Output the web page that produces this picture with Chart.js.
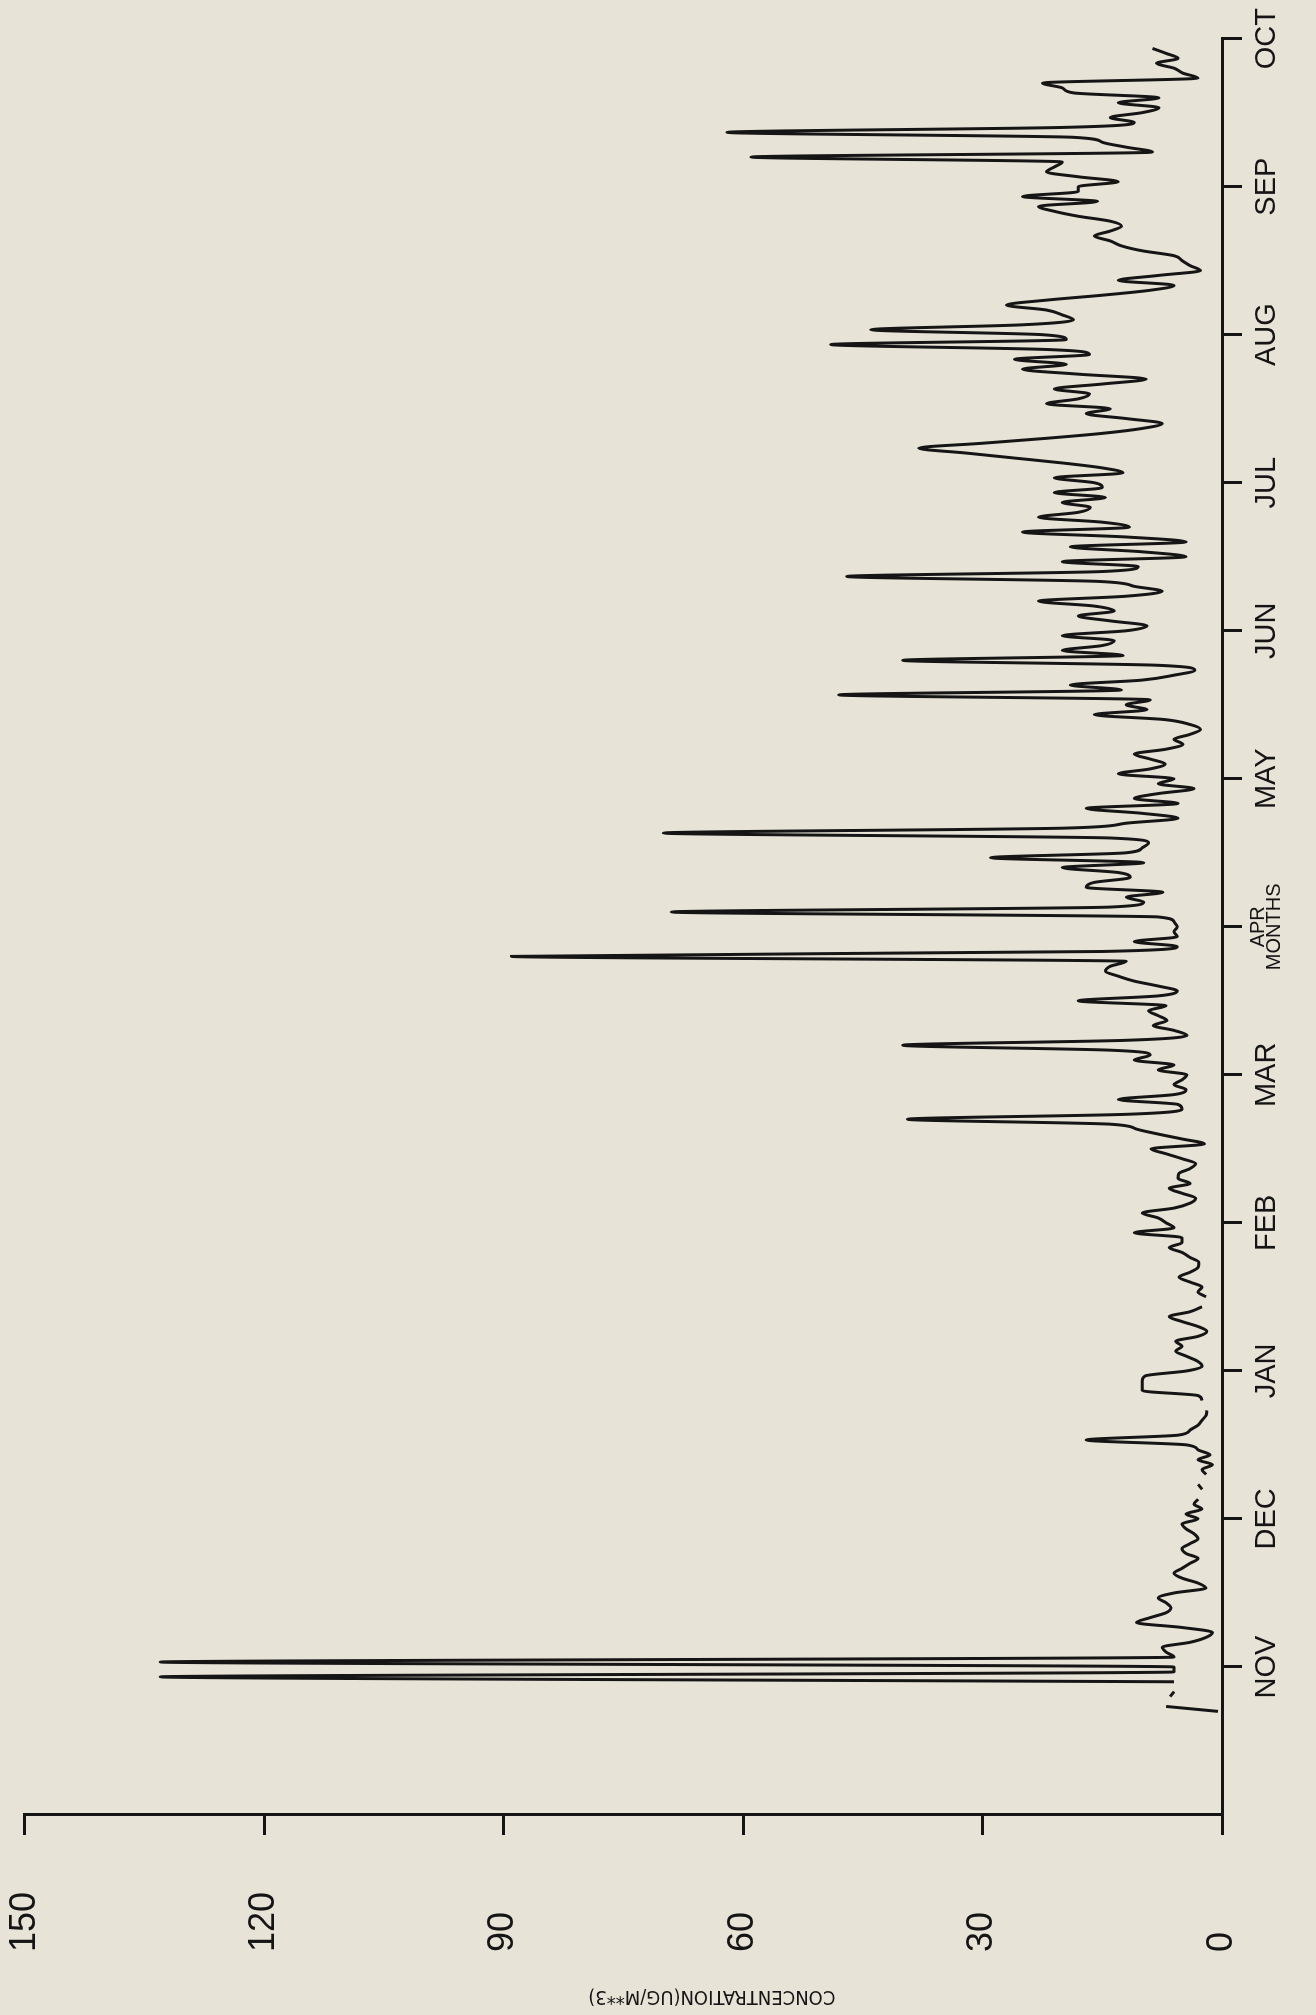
<!DOCTYPE html>
<html>
<head>
<meta charset="utf-8">
<script src="https://cdn.jsdelivr.net/npm/chart.js@4.4.1/dist/chart.umd.min.js"></script>
<style>
    html, body { margin: 0; padding: 0; background: #e8e3d7; overflow: hidden; }
    body { width: 1316px; height: 2015px; position: relative; }
    /* the plot is drawn lying on its side, as on the original sheet */
    #wrap {
        position: absolute; left: 0; top: 0;
        width: 2015px; height: 1316px;
        transform-origin: 0 0;
        transform: translate(0px, 2015px) rotate(-90deg);
    }
    canvas { display: block; }
</style>
</head>
<body>
<div id="wrap"><canvas id="concChart" width="2015" height="1316"></canvas></div>
<script>
// Tick labels
const monthLabels = ['NOV', 'DEC', 'JAN', 'FEB', 'MAR', 'APR', 'MAY', 'JUN', 'JUL', 'AUG', 'SEP', 'OCT'];
const monthTicks = [1, 2, 3, 4, 5, 6, 7, 8, 9, 10, 11, 12];
const xTitle = 'MONTHS';
const yTitle = 'CONCENTRATION(UG/M**3)';
const yTicks = [0, 30, 60, 90, 120, 150];

// Daily concentrations (30 slots per month); null = no data
const octVals = [null, null, null, null, null, null, null, null, null, null, null, null, null, null, null,
    null, null, null, null, null, null, 0.5, 7, null, 6.5, 6, null, 6, 133, 6];
const novVals = [6, 133, 6, 7, 7.5, 4, 2, 1.2, 5, 10.7, 9, 7, 6.4, 7, 8,
    6, 2, 3, 5, 6, 5, 4, 3, 4.5, 5, 4, 3, 3.5, 4.5, 5];
const decVals = [3, 4.5, 2.5, 3.5, 3, null, 2.5, 3, null, 2, 2.5, 1.2, 3, 1.5, 3,
    4.4, 17, 5.4, 4, 3, 2.5, 2, 1.9, null, 2.5, 3, 10, 10, 10, 9.6];
const janVals = [4.4, 2.5, 3.1, 4.5, 5.8, 5, 5.8, 3, 1.9, 3, 5, 6.6, 4, 2.5, null,
    2, 3, 2.5, 4, 5.4, 4, 3, 2.9, 4, 5, 6.6, 5, 5, 11, 6];
const febVals = [7, 8, 10, 6, 4, 3.3, 5, 6.6, 4, 5.5, 5.4, 4, 3.3, 5, 7,
    8.9, 2.2, 5, 8, 10.7, 14, 39.4, 12, 5, 5.5, 13, 6, 4.5, 6, 5];
const marVals = [4.4, 8, 6, 11, 9, 14, 40, 12, 4.4, 6, 8.6, 6.9, 8, 9.2, 7,
    18, 8, 5.6, 8, 11, 13, 14.6, 14, 12, 89, 15, 5.6, 11, 5.6, 6];
const aprVals = [5.6, 6, 8, 69, 14, 9.8, 12, 7.4, 17, 16, 11.5, 13, 20, 9.8, 29,
    12, 10, 9.2, 14, 70, 19.7, 12, 5.5, 10, 17, 5.5, 11, 8, 3.5, 8];
const mayVals = [6, 13, 9, 7.1, 9, 11, 7, 4.9, 6, 4, 2.7, 4, 7.2, 16, 9.4,
    12, 9, 48, 12.6, 19, 10, 6, 3.4, 8, 40, 12.4, 20, 15, 13.5, 20];
const junVals = [12, 9.4, 14, 18, 13.5, 16, 23, 12, 7.5, 11, 15.5, 47, 15, 10.5, 20,
    4.5, 10, 19, 4.5, 12, 25, 11.6, 15, 23, 18, 16.5, 20, 14.6, 21, 15];
const julVals = [16, 21, 12.4, 15, 20, 26, 32, 38, 30, 22, 15, 10, 7.5, 12, 17,
    14, 22, 18, 16.6, 21, 15, 9.5, 18, 25, 19.5, 26, 16.6, 22, 49, 19.5];
const augVals = [22.5, 44, 25, 18.6, 20, 22, 27, 22, 15, 9, 6, 13, 8, 2.7, 4,
    5, 6, 10, 12.6, 14, 16, 14, 12.6, 14, 18, 21, 23, 15.6, 25, 18];
const sepVals = [18, 13, 18, 22, 21, 20, 59, 8.7, 12, 15, 18.6, 62, 20, 11, 14,
    10, 7.9, 13, 7.9, 18.6, 20, 22.5, 3, 4.9, 6, 8.2, 5.5, 7, 8.7, null];

const months = [octVals, novVals, decVals, janVals, febVals, marVals,
    aprVals, mayVals, junVals, julVals, augVals, sepVals];

// x = months since 1 Oct, each month split in 30 days
const points = [];
months.forEach((vals, m) => {
    vals.forEach((v, d) => {
        points.push({ x: m + d / 30, y: v });
    });
});

const ink = '#151515';
const monthFont = { family: "'Liberation Sans', Arial, sans-serif", size: 29, lineHeight: 1.2 };
const smallFont = { family: "'Liberation Sans', Arial, sans-serif", size: 20, lineHeight: '16px' };

const ctx = document.getElementById('concChart').getContext('2d');
const concChart = new Chart(ctx, {
    type: 'line',
    data: {
        datasets: [{
            data: points,
            borderColor: ink,
            borderWidth: 3,
            pointRadius: 0,
            fill: false,
            spanGaps: false,
            cubicInterpolationMode: 'monotone'
        }]
    },
    options: {
        responsive: false,
        devicePixelRatio: 1,
        animation: false,
        layout: { padding: { top: 23, right: 35, bottom: 0, left: 0 } },
        plugins: {
            legend: { display: false },
            tooltip: { enabled: false }
        },
        scales: {
            x: {
                type: 'linear',
                position: 'bottom',
                min: 0,
                max: 12,
                afterBuildTicks: (scale) => {
                    scale.ticks = monthTicks.map(v => ({ value: v }));
                },
                afterFit: (scale) => { scale.height = 94; },
                ticks: {
                    autoSkip: false,
                    maxRotation: 0,
                    minRotation: 0,
                    padding: 8,
                    color: ink,
                    font: (c) => (c.tick && c.tick.value === 6 ? smallFont : monthFont),
                    callback: (value) => {
                        const label = monthLabels[value - 1];
                        return value === 6 ? [label, xTitle] : label;
                    }
                },
                grid: {
                    drawOnChartArea: false,
                    tickLength: 20,
                    lineWidth: 3,
                    color: ink
                },
                border: { display: true, color: ink, width: 3 }
            },
            y: {
                type: 'linear',
                position: 'left',
                min: 0,
                max: 150,
                afterBuildTicks: (scale) => {
                    scale.ticks = yTicks.map(v => ({ value: v }));
                },
                afterFit: (scale) => { scale.width = 137; },
                ticks: {
                    crossAlign: 'far',
                    color: ink,
                    font: { family: "'Liberation Sans', Arial, sans-serif", size: 36 }
                },
                grid: {
                    drawOnChartArea: false,
                    tickLength: 20,
                    lineWidth: 3,
                    color: ink
                },
                border: { display: true, color: ink, width: 3 }
            },
            yt: {
                type: 'linear',
                position: 'left',
                weight: 1,
                afterFit: (scale) => { scale.width = 63; },
                ticks: { display: false },
                grid: { display: false },
                border: { display: false },
                title: {
                    display: true,
                    // trailing blanks push the title towards the low end, as on the sheet
                    text: yTitle + ' '.repeat(31),
                    color: ink,
                    padding: { top: 7, bottom: 0 },
                    font: { family: "'Liberation Sans Narrow', 'DejaVu Sans Condensed', sans-serif", size: 20 }
                }
            }
        }
    }
});
</script>
</body>
</html>
